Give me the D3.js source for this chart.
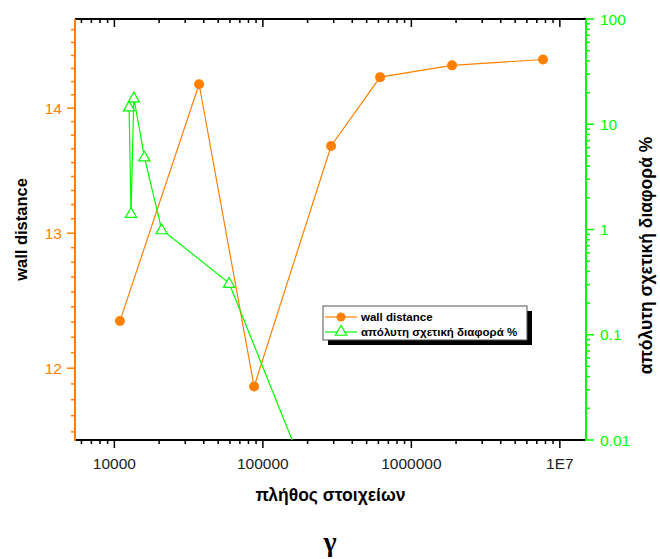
<!DOCTYPE html>
<html>
<head>
<meta charset="utf-8">
<script src="https://cdn.jsdelivr.net/npm/d3@7"></script>
<style>
	body { margin: 0; background: #fff; }
	svg text { font-family: Arial, "Liberation Sans", sans-serif; }
</style>
</head>
<body>
<div id="chart"></div>
<script>
(function() {

	// data
	var wallN = [10900, 37200, 87300, 288000, 616000, 1880000, 7700000];
	var wallDist = [12.34, 14.20, 11.87, 13.69, 14.26, 14.36, 14.41];
	var diffN = [12560, 12950, 13520, 15900, 20800, 59200, 288000];
	var diffPct = [14.7, 1.43, 17.9, 4.92, 1.0, 0.31, 0.0012];
	var xTicks = [10000, 100000, 1000000, 10000000];
	var xTickLabels = ["10000", "100000", "1000000", "1E7"];
	var leftTicks = [12, 13, 14];
	var rightTicks = [0.01, 0.1, 1, 10, 100];
	var rightTickLabels = ["0.01", "0.1", "1", "10", "100"];

	var width = 660, height = 559;
	var orange = "#ff8000", green = "#00ff00";
	var left = 75, right = 586, top = 19, bottom = 440;

	var svg = d3.select("#chart").append("svg")
		.attr("width", width)
		.attr("height", height);

	var x = d3.scaleLog().domain([5430, 15000000]).range([left, right]);
	var yL = d3.scaleLog().domain([11.5, 14.76]).range([bottom, top]);
	var yR = d3.scaleLog().domain([0.01, 100]).range([bottom, top]);

	svg.append("defs").append("clipPath").attr("id", "plotClip")
		.append("rect")
			.attr("x", left).attr("y", top)
			.attr("width", right - left).attr("height", bottom - top);

	// minor ticks on the log x axis
	var xMinor = [];
	for (var e = 3; e <= 7; e++) {
		for (var k = 2; k <= 9; k++) {
			var v = k * Math.pow(10, e);
			if (v >= x.domain()[0] && v <= x.domain()[1]) xMinor.push(v);
		}
	}
	// minor ticks on the left axis (8 between majors)
	var leftMinor = [];
	for (var m = 11; m <= 14; m++) {
		for (var j = 1; j <= 8; j++) {
			var lv = m + j / 9;
			if (lv >= yL.domain()[0] && lv <= yL.domain()[1]) leftMinor.push(lv);
		}
	}
	var rightMinor = [];
	for (var r = -2; r <= 1; r++) {
		for (var q = 2; q <= 9; q++) rightMinor.push(q * Math.pow(10, r));
	}

	// bottom axis
	var gB = svg.append("g").attr("transform", "translate(0," + bottom + ")");
	gB.selectAll("line.minor").data(xMinor).enter().append("line")
		.attr("x1", function(d) { return x(d); }).attr("x2", function(d) { return x(d); })
		.attr("y1", 0).attr("y2", 4)
		.attr("stroke", "#000").attr("stroke-width", 1.5);
	gB.selectAll("line.major").data(xTicks).enter().append("line")
		.attr("x1", function(d) { return x(d); }).attr("x2", function(d) { return x(d); })
		.attr("y1", 0).attr("y2", 8)
		.attr("stroke", "#000").attr("stroke-width", 1.5);
	gB.selectAll("text").data(xTicks).enter().append("text")
		.attr("x", function(d) { return x(d); })
		.attr("y", 29)
		.attr("text-anchor", "middle")
		.attr("font-size", "15.5px")
		.attr("fill", "#222")
		.text(function(d, i) { return xTickLabels[i]; });

	// top axis (ticks point inside)
	var gT = svg.append("g").attr("transform", "translate(0," + top + ")");
	gT.selectAll("line.minor").data(xMinor).enter().append("line")
		.attr("x1", function(d) { return x(d); }).attr("x2", function(d) { return x(d); })
		.attr("y1", 0).attr("y2", 4)
		.attr("stroke", "#000").attr("stroke-width", 1.5);
	gT.selectAll("line.major").data(xTicks).enter().append("line")
		.attr("x1", function(d) { return x(d); }).attr("x2", function(d) { return x(d); })
		.attr("y1", 0).attr("y2", 8)
		.attr("stroke", "#000").attr("stroke-width", 1.5);

	svg.append("line")
		.attr("x1", left).attr("x2", right).attr("y1", bottom).attr("y2", bottom)
		.attr("stroke", "#000").attr("stroke-width", 2);
	svg.append("line")
		.attr("x1", left).attr("x2", right).attr("y1", top).attr("y2", top)
		.attr("stroke", "#000").attr("stroke-width", 2);

	// left axis
	var gL = svg.append("g").attr("transform", "translate(" + left + ",0)");
	gL.selectAll("line.minor").data(leftMinor).enter().append("line")
		.attr("y1", function(d) { return yL(d); }).attr("y2", function(d) { return yL(d); })
		.attr("x1", 0).attr("x2", -4)
		.attr("stroke", orange).attr("stroke-width", 1.5);
	gL.selectAll("line.major").data(leftTicks).enter().append("line")
		.attr("y1", function(d) { return yL(d); }).attr("y2", function(d) { return yL(d); })
		.attr("x1", 0).attr("x2", -8)
		.attr("stroke", orange).attr("stroke-width", 1.5);
	gL.selectAll("text").data(leftTicks).enter().append("text")
		.attr("x", -13)
		.attr("y", function(d) { return yL(d) + 5.5; })
		.attr("text-anchor", "end")
		.attr("font-size", "15.5px")
		.attr("fill", orange)
		.text(function(d) { return d; });
	svg.append("line")
		.attr("x1", left).attr("x2", left).attr("y1", top).attr("y2", bottom + 1)
		.attr("stroke", orange).attr("stroke-width", 2);

	// right axis
	var gR = svg.append("g").attr("transform", "translate(" + right + ",0)");
	gR.selectAll("line.minor").data(rightMinor).enter().append("line")
		.attr("y1", function(d) { return yR(d); }).attr("y2", function(d) { return yR(d); })
		.attr("x1", 0).attr("x2", 4)
		.attr("stroke", green).attr("stroke-width", 1.5);
	gR.selectAll("line.major").data(rightTicks).enter().append("line")
		.attr("y1", function(d) { return yR(d); }).attr("y2", function(d) { return yR(d); })
		.attr("x1", 0).attr("x2", 8)
		.attr("stroke", green).attr("stroke-width", 1.5);
	gR.selectAll("text").data(rightTicks).enter().append("text")
		.attr("x", 14)
		.attr("y", function(d) { return yR(d) + 5.5; })
		.attr("font-size", "15.5px")
		.attr("fill", green)
		.text(function(d, i) { return rightTickLabels[i]; });
	svg.append("line")
		.attr("x1", right).attr("x2", right).attr("y1", top).attr("y2", bottom + 1)
		.attr("stroke", green).attr("stroke-width", 2);

	// series
	var plot = svg.append("g").attr("clip-path", "url(#plotClip)");

	var wallLine = d3.line()
		.x(function(d, i) { return x(wallN[i]); })
		.y(function(d) { return yL(d); });
	plot.append("path")
		.attr("d", wallLine(wallDist))
		.attr("fill", "none")
		.attr("stroke", orange)
		.attr("stroke-width", 1.2);
	plot.selectAll("circle.wall").data(wallDist).enter().append("circle")
		.attr("class", "wall")
		.attr("cx", function(d, i) { return x(wallN[i]); })
		.attr("cy", function(d) { return yL(d); })
		.attr("r", 5)
		.attr("fill", orange);

	var diffLine = d3.line()
		.x(function(d, i) { return x(diffN[i]); })
		.y(function(d) { return yR(d); });
	plot.append("path")
		.attr("d", diffLine(diffPct))
		.attr("fill", "none")
		.attr("stroke", green)
		.attr("stroke-width", 1.2);
	var tri = d3.symbol().type(d3.symbolTriangle).size(55);
	plot.selectAll("path.diff").data(diffPct).enter().append("path")
		.attr("class", "diff")
		.attr("d", tri)
		.attr("transform", function(d, i) { return "translate(" + x(diffN[i]) + "," + (yR(d) + 1) + ")"; })
		.attr("fill", "#fff")
		.attr("stroke", green)
		.attr("stroke-width", 1.2);

	// legend with shadow
	var lg = svg.append("g").attr("transform", "translate(323,306)");
	lg.append("rect").attr("x", 5).attr("y", 5).attr("width", 204).attr("height", 34).attr("fill", "#000");
	lg.append("rect").attr("x", 0).attr("y", 0).attr("width", 204).attr("height", 34)
		.attr("fill", "#fff").attr("stroke", "#555").attr("stroke-width", 1);
	lg.append("line").attr("x1", 2).attr("x2", 34).attr("y1", 11).attr("y2", 11)
		.attr("stroke", orange).attr("stroke-width", 1.2);
	lg.append("circle").attr("cx", 18).attr("cy", 11).attr("r", 4.5).attr("fill", orange);
	lg.append("line").attr("x1", 2).attr("x2", 34).attr("y1", 26).attr("y2", 26)
		.attr("stroke", green).attr("stroke-width", 1.2);
	lg.append("path").attr("d", tri).attr("transform", "translate(18,26)")
		.attr("fill", "#fff").attr("stroke", green).attr("stroke-width", 1.2);
	lg.append("text").attr("x", 38).attr("y", 15).attr("font-size", "11.5px").attr("font-weight", "bold")
		.text("wall distance");
	lg.append("text").attr("x", 38).attr("y", 30).attr("font-size", "11.5px").attr("font-weight", "bold")
		.text("απόλυτη σχετική διαφορά %");

	// titles
	svg.append("text")
		.attr("transform", "translate(27," + ((top + bottom) / 2) + ") rotate(-90)")
		.attr("text-anchor", "middle")
		.attr("font-size", "16.5px").attr("font-weight", "bold")
		.text("wall distance");
	svg.append("text")
		.attr("transform", "translate(652," + ((top + bottom) / 2 + 26) + ") rotate(-90)")
		.attr("text-anchor", "middle")
		.attr("font-size", "17.5px").attr("font-weight", "bold")
		.text("απόλυτη σχετική διαφορά %");
	svg.append("text")
		.attr("x", (left + right) / 2)
		.attr("y", 501)
		.attr("text-anchor", "middle")
		.attr("font-size", "17.5px").attr("font-weight", "bold")
		.text("πλήθος στοιχείων");
	svg.append("text")
		.attr("x", 330)
		.attr("y", 551)
		.attr("text-anchor", "middle")
		.style("font-family", "'Liberation Serif', 'DejaVu Serif', serif")
		.attr("font-size", "28px").attr("font-weight", "bold")
		.text("γ");

})();
</script>
</body>
</html>
